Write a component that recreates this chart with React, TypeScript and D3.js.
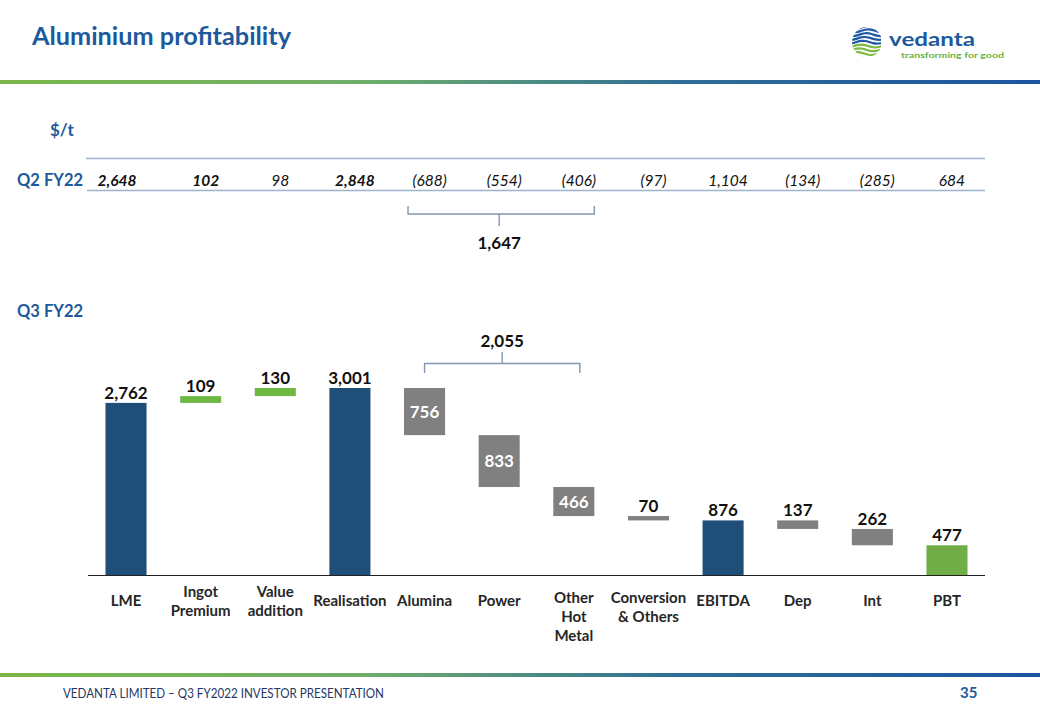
import React from "react";
import * as d3 from "d3";

const categories = ["LME", "Ingot Premium", "Value addition", "Realisation", "Alumina", "Power", "Other Hot Metal", "Conversion & Others", "EBITDA", "Dep", "Int", "PBT"];
const categoryLines = [["LME"], ["Ingot", "Premium"], ["Value", "addition"], ["Realisation"], ["Alumina"], ["Power"], ["Other", "Hot", "Metal"], ["Conversion", "& Others"], ["EBITDA"], ["Dep"], ["Int"], ["PBT"]];
const q3Values = [2762, 109, 130, 3001, 756, 833, 466, 70, 876, 137, 262, 477];
const q3Kinds = ["total", "increase", "increase", "total", "decrease", "decrease", "decrease", "decrease", "total", "decrease", "decrease", "result"];
const q2Values = [2648, 102, 98, 2848, -688, -554, -406, -97, 1104, -134, -285, 684];
const q2Bold = [true, true, false, true, false, false, false, false, false, false, false, false];
const q2BracketTotal = 1647;
const q3BracketTotal = 2055;
const bracketFrom = "Alumina";
const bracketTo = "Other Hot Metal";

const colors: Record<string, string> = {
  total: "#1F4E79",
  increase: "#70B844",
  decrease: "#808080",
  result: "#70AD47",
};

const FONT = "Lato, 'Open Sans', sans-serif";
const BLUE = "#1C5A9C";

export default function App() {
  const x = d3.scaleBand<string>().domain(categories).range([88.7, 984.3]).paddingInner(0.45).paddingOuter(0.225);
  const y = d3.scaleLinear().domain([0, 3001]).range([575, 388]);
  const bw = x.bandwidth();

  let running = 0;
  const bars = categories.map((c, i) => {
    const v = q3Values[i];
    const k = q3Kinds[i];
    let lo = 0, hi = 0;
    if (k === "total" || k === "result") { lo = 0; hi = v; running = v; }
    else if (k === "increase") { lo = running; hi = running + v; running = hi; }
    else { hi = running; lo = running - v; running = lo; }
    return { c, v, k, lo, hi };
  });

  const fmt = d3.format(",");
  const fmtQ2 = (v: number) => (v < 0 ? `(${fmt(-v)})` : fmt(v));
  const cx = (c: string) => (x(c) as number) + bw / 2;

  const q2bL = x(bracketFrom) as number;
  const q2bR = (x(bracketTo) as number) + bw;
  const q2mid = (q2bL + q2bR) / 2;
  const q3bL = cx(bracketFrom);
  const q3bR = cx(bracketTo) + 6;
  const q3mid = (q3bL + q3bR) / 2;

  const waves = d3.range(0, 9).map((i) => {
    const yy = 27 + i * 3.8;
    const pts: [number, number][] = d3.range(0, 9).map((j) => [849 + j * 4, yy + Math.sin(j * 0.9 + i * 0.4) * 1.6]);
    return { d: d3.line().curve(d3.curveBasis)(pts) as string, color: i < 5 ? "#1F5AA6" : "#7DBA42" };
  });

  return (
    <svg width={1040} height={720} viewBox="0 0 1040 720" style={{ position: "absolute", left: 0, top: 0, background: "#fff" }} fontFamily={FONT}>
      <defs>
        <linearGradient id="hdr" x1="0" x2="1" y1="0" y2="0">
          <stop offset="0" stopColor="#7AB648" />
          <stop offset="0.35" stopColor="#6FAE6A" />
          <stop offset="0.65" stopColor="#2F6E96" />
          <stop offset="1" stopColor="#1C55A0" />
        </linearGradient>
        <clipPath id="logoClip"><circle cx={867} cy={42} r={15} /></clipPath>
      </defs>
      <rect x={0} y={0} width={1040} height={720} fill="#fff" />

      {/* Header */}
      <text x={32} y={45} fontSize={25} fontWeight={700} fill={BLUE} textLength={259} lengthAdjust="spacingAndGlyphs">Aluminium profitability</text>
      <g clipPath="url(#logoClip)">
        {waves.map((w, i) => (
          <path key={i} d={w.d} fill="none" stroke={w.color} strokeWidth={2.2} />
        ))}
      </g>
      <text x={889} y={45.5} fontSize={19} fontWeight={700} fill={BLUE} textLength={86} lengthAdjust="spacingAndGlyphs">vedanta</text>
      <text x={901} y={57.5} fontSize={8} fontWeight={700} fill="#6DB33F" textLength={103} lengthAdjust="spacingAndGlyphs">transforming for good</text>
      <rect x={0} y={80} width={1040} height={4} fill="url(#hdr)" />

      {/* $/t and Q2 row */}
      <text x={50} y={136} fontSize={17} fontWeight={700} fill={BLUE}>$/t</text>
      <text x={17} y={186} fontSize={16.5} fontWeight={700} fill={BLUE}>Q2 FY22</text>
      <line x1={86} x2={985} y1={158.5} y2={158.5} stroke="#9DB3CC" strokeWidth={1.5} />
      <line x1={87} x2={985} y1={190.5} y2={190.5} stroke="#9DB3CC" strokeWidth={1.5} />
      {q2Values.map((v, i) => (
        <text key={i} x={cx(categories[i]) + (i === 0 ? -9 : 5)} y={185.5} fontSize={15.5} fontStyle="italic" fontWeight={q2Bold[i] ? 700 : 400} fill="#111" textAnchor="middle">{fmtQ2(v)}</text>
      ))}
      <path d={`M${q2bL + 4},206 V214 H${q2bR} V206 M${q2mid},214 V226`} fill="none" stroke="#8497B0" strokeWidth={1.4} />
      <text x={q2mid} y={249} fontSize={17} fontWeight={700} fill="#111" textAnchor="middle">{fmt(q2BracketTotal)}</text>

      {/* Q3 */}
      <text x={17} y={317} fontSize={16.5} fontWeight={700} fill={BLUE}>Q3 FY22</text>
      <path d={`M${q3bL},373 V363.5 H${q3bR} V373 M${q3mid},363.5 V352`} fill="none" stroke="#8497B0" strokeWidth={1.4} />
      <text x={q3mid} y={347} fontSize={17} fontWeight={700} fill="#111" textAnchor="middle">{fmt(q3BracketTotal)}</text>

      {bars.map((b, i) => {
        const top = y(b.hi);
        const h = y(b.lo) - y(b.hi);
        const inside = b.k === "decrease" && h > 20;
        return (
          <g key={i}>
            <rect x={x(b.c)} y={top} width={bw} height={h} fill={colors[b.k]} />
            {inside ? (
              <text x={cx(b.c)} y={top + h / 2 + 6} fontSize={17} fontWeight={700} fill="#fff" textAnchor="middle">{fmt(b.v)}</text>
            ) : (
              <text x={cx(b.c)} y={top - 4} fontSize={17} fontWeight={700} fill="#111" textAnchor="middle">{fmt(b.v)}</text>
            )}
          </g>
        );
      })}
      <line x1={88} x2={985} y1={575.5} y2={575.5} stroke="#222" strokeWidth={1.2} />

      {categoryLines.map((lines, i) => (
        <text key={i} x={cx(categories[i])} fontSize={15} fontWeight={700} fill="#262626" textAnchor="middle">
          {lines.map((l, j) => (
            <tspan key={j} x={cx(categories[i])} y={(lines.length === 1 ? 606 : lines.length === 2 && i < 3 ? 597 : 603) + j * 19}>{l}</tspan>
          ))}
        </text>
      ))}

      {/* Footer */}
      <rect x={0} y={673} width={1040} height={4} fill="url(#hdr)" />
      <text x={63} y={698} fontSize={12.5} fill="#1F3864" textLength={321} lengthAdjust="spacingAndGlyphs">VEDANTA  LIMITED – Q3 FY2022  INVESTOR PRESENTATION</text>
      <text x={960} y={698} fontSize={15} fontWeight={700} fill={BLUE}>35</text>
    </svg>
  );
}
